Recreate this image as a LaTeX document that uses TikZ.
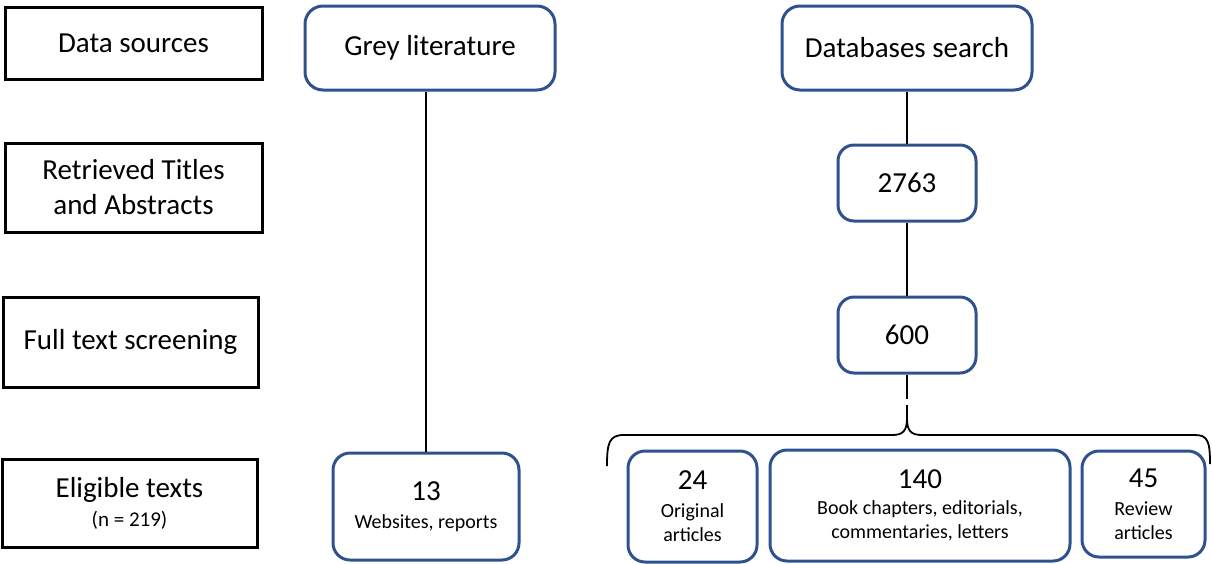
\documentclass[tikz,border=0pt]{standalone}
\usepackage{fontspec}
\setmainfont{Carlito}
\definecolor{boxblue}{RGB}{47,82,143}
\begin{document}
\begin{tikzpicture}[x=1pt,y=-1pt,
  stage/.style={draw=black, line width=3pt, inner sep=0pt, align=center,
    font=\fontsize{29}{35}\selectfont},
  source/.style={draw=boxblue, line width=3pt, rounded corners=18pt, inner sep=0pt,
    align=center, font=\fontsize{29}{35}\selectfont},
  count/.style={draw=boxblue, line width=3pt, rounded corners=17pt, inner sep=0pt,
    align=center, font=\fontsize{20}{24}\selectfont},
  bignum/.style={font=\fontsize{29}{29}\selectfont},
  link/.style={draw=black, line width=1.8pt}
]
\newcommand{\numtext}[1]{{\fontsize{29}{29}\selectfont #1}}
\useasboundingbox (0,0) rectangle (1212,563);

% stage labels on the left
\node[stage, minimum width=257pt, minimum height=72pt] (ds) at (133.5,43) {Data sources};
\node[stage, minimum width=257pt, minimum height=89pt] (rt) at (133.5,187.5) {Retrieved Titles\\and Abstracts};
\node[stage, minimum width=255pt, minimum height=90pt] (ft) at (130.5,342) {Full text screening};
\node[stage, minimum width=255pt, minimum height=88pt, font=\fontsize{29}{29}\selectfont] (el) at (129.5,503)
  {Eligible texts\\{\fontsize{21}{24}\selectfont (n = 219)}};

% sources
\node[source, minimum width=250pt, minimum height=84pt] (gl) at (430,48) {Grey literature};
\node[source, minimum width=250pt, minimum height=84pt] (db) at (907,48) {Databases search};

% database branch
\node[source, rounded corners=16pt, minimum width=138pt, minimum height=76pt] (n2763) at (907,183) {2763};
\node[source, rounded corners=16pt, minimum width=138pt, minimum height=76pt] (n600) at (907,335) {600};

% eligible texts
\node[count, minimum width=186pt, minimum height=107pt] (w13) at (426,506.5)
  {\numtext{13}\\[4pt]Websites, reports};
\node[count, minimum width=129pt, minimum height=111pt] (n24) at (692.5,506.5)
  {\numtext{24}\\[4pt]Original\\articles};
\node[count, minimum width=300pt, minimum height=111pt] (n140) at (920,505.5)
  {\numtext{140}\\[2pt]Book chapters, editorials,\\commentaries, letters};
\node[count, minimum width=123pt, minimum height=106pt] (n45) at (1143.5,504)
  {\numtext{45}\\[4pt]Review\\articles};

% connectors
\draw[link] (gl.south -| w13.north) -- (w13.north);
\draw[link] (db.south) -- (n2763.north);
\draw[link] (n2763.south) -- (n600.north);
\coordinate (gapend) at (907,399);
\draw[link] (n600.south) -- (gapend);

% brace over the three database categories
\coordinate (tip) at (907,405);
\coordinate (braceL) at (607,466);
\coordinate (braceR) at (1210,464);
\draw[link, line join=round]
  (braceL) .. controls (607,443) and (609,435) .. (624,435) -- (892,435)
  .. controls (903,435) and (907,431) .. (907,418) -- (tip)
  (907,418) .. controls (907,431) and (911,435) .. (922,435) -- (1195,435)
  .. controls (1208,435) and (1210,442) .. (braceR);
\end{tikzpicture}
\end{document}
